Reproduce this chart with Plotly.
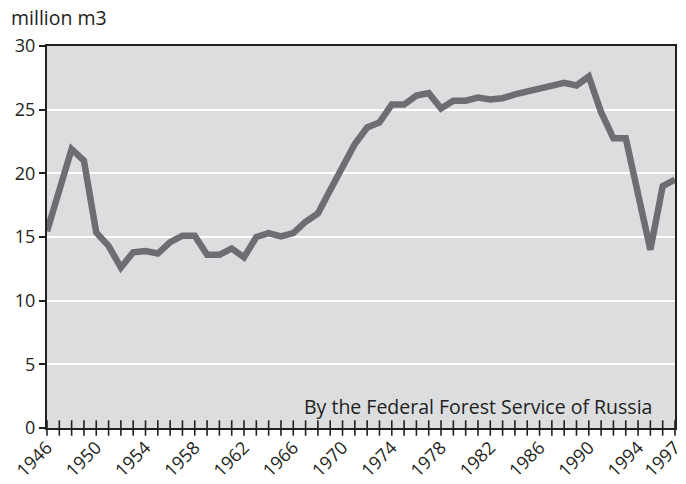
import plotly.graph_objects as go

years = list(range(1946, 1998))
values = [15.45, 18.7, 21.9, 21.0, 15.35, 14.3, 12.6, 13.8, 13.9, 13.7,
          14.6, 15.1, 15.1, 13.6, 13.6, 14.1, 13.4, 15.0, 15.3, 15.05,
          15.3, 16.2, 16.85, 18.7, 20.6, 22.3, 23.6, 24.0, 25.4, 25.4,
          26.1, 26.3, 25.1, 25.7, 25.7, 25.95, 25.8, 25.9, 26.2, 26.4,
          26.7, 26.8, 27.1, 26.9, 27.6, 24.8, 22.75, 22.75, 18.6, 14.0,
          19.0, 19.5]
tick_years = [1946, 1950, 1954, 1958, 1962, 1966, 1970, 1974, 1978, 1982,
              1986, 1990, 1994, 1997]
y_ticks = [0, 5, 10, 15, 20, 25, 30]

FONT = "Open Sans"
INK = "#231f20"
fig = go.Figure()
fig.add_trace(go.Scatter(x=years, y=values, mode="lines",
                         line=dict(color="#6d6e71", width=6.5),
                         hoverinfo="skip", showlegend=False))
# crossing year ticks
fig.add_trace(go.Scatter(x=years, y=[0]*len(years), mode="markers",
                         marker=dict(symbol="line-ns-open", size=11, color=INK,
                                     line=dict(color=INK, width=1.6)),
                         cliponaxis=False, hoverinfo="skip", showlegend=False))

fig.update_layout(
    width=686, height=484,
    margin=dict(l=47, r=11, t=46, b=56),
    paper_bgcolor="white", plot_bgcolor="#dcdddf",
    font=dict(family=FONT, color=INK, size=18),
    showlegend=False,
    annotations=[
        dict(text="million m3", x=0, xref="paper", xanchor="left",
             xshift=-38, y=1, yref="paper", yanchor="bottom", yshift=13,
             showarrow=False, font=dict(size=19.5)),
        dict(text="By the Federal Forest Service of Russia", x=1995.3,
             xref="x", xanchor="right", y=0.45, yref="y", yanchor="bottom",
             showarrow=False, font=dict(size=19.5)),
    ],
)
fig.update_xaxes(range=[1946, 1997], tickvals=tick_years,
                 ticktext=[str(v) for v in tick_years], tickangle=-45,
                 ticks="", showgrid=False, zeroline=False, automargin=False,
                 showline=True, linecolor=INK, linewidth=2, mirror=True,
                 tickfont=dict(size=18))
fig.update_yaxes(range=[0, 30], tickvals=y_ticks, ticks="outside", ticklen=6,
                 tickwidth=2, tickcolor=INK, automargin=False,
                 showgrid=True, gridcolor="white", gridwidth=2, zeroline=False,
                 showline=True, linecolor=INK, linewidth=2, mirror=True,
                 tickfont=dict(size=18))

fig.write_html("out.html", config={"displayModeBar": False},
               post_script="document.body.style.margin='0';"
                           "document.body.style.overflow='hidden';")
